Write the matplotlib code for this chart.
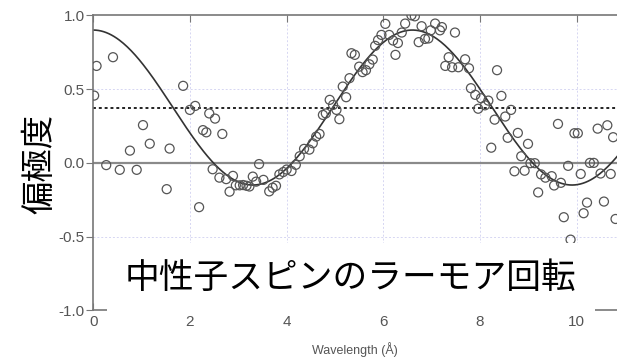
"""
Neutron spin Larmor precession: polarization vs wavelength with cosine fit.
"""

import matplotlib
matplotlib.use("Agg")
import matplotlib.pyplot as plt
import numpy as np

plt.rcParams["font.family"] = ["Liberation Sans", "DejaVu Sans"]

# ---------------------------------------------------------------------------
# Data
# ---------------------------------------------------------------------------

WAVELENGTH = [
    0.02, 0.07, 0.41, 0.27, 0.55, 0.76, 0.90, 1.03, 1.17, 1.52,
    1.58, 1.86, 2.00, 2.11, 2.05, 2.19, 2.27, 2.34, 2.40, 2.52,
    2.67, 2.47, 2.61, 2.75, 2.82, 2.89, 2.95, 3.03, 3.10, 3.17,
    3.23, 3.30, 3.37, 3.43, 3.52, 3.64, 3.71, 3.78, 3.85, 3.93,
    4.00, 4.10, 4.19, 4.27, 4.36, 4.47, 4.54, 4.61, 4.68, 4.75,
    4.81, 4.89, 4.96, 5.03, 5.09, 5.16, 5.23, 5.30, 5.34, 5.41,
    5.50, 5.57, 5.64, 5.71, 5.78, 5.83, 5.89, 5.96, 6.04, 6.12,
    6.20, 6.25, 6.30, 6.38, 6.45, 6.58, 6.65, 6.73, 6.79, 6.86,
    6.93, 6.98, 7.07, 7.17, 7.21, 7.48, 7.28, 7.35, 7.42, 7.55,
    7.69, 7.77, 7.81, 7.90, 7.96, 8.02, 8.10, 8.17, 8.23, 8.30,
    8.35, 8.44, 8.52, 8.57, 8.64, 8.71, 8.78, 8.85, 8.92, 8.99,
    9.04, 9.13, 9.20, 9.26, 9.35, 9.48, 9.53, 9.61, 9.67, 9.73,
    9.82, 9.87, 9.95, 10.02, 10.08, 10.14, 10.21, 10.27, 10.35, 10.43,
    10.49, 10.56, 10.63, 10.70, 10.75, 10.80,
]
POLARIZATION = [
    0.456, 0.657, 0.716, -0.015, -0.047, 0.083, -0.047, 0.256, 0.130, -0.178,
    0.097, 0.522, 0.359, 0.386, -0.980, -0.300, 0.222, 0.207, 0.335, 0.300,
    0.196, -0.043, -0.100, -0.110, -0.195, -0.088, -0.152, -0.152, -0.150, -0.155,
    -0.160, -0.093, -0.127, -0.008, -0.115, -0.193, -0.168, -0.155, -0.078, -0.062,
    -0.045, -0.055, -0.013, 0.045, 0.095, 0.090, 0.133, 0.178, 0.196, 0.325,
    0.335, 0.427, 0.393, 0.359, 0.296, 0.517, 0.445, 0.574, 0.743, 0.732,
    0.652, 0.615, 0.628, 0.668, 0.700, 0.793, 0.832, 0.867, 0.942, 0.867,
    0.829, 0.732, 0.812, 0.883, 0.944, 1.000, 0.993, 0.818, 0.926, 0.840,
    0.843, 0.898, 0.944, 0.898, 0.920, 0.883, 0.657, 0.716, 0.648, 0.648,
    0.702, 0.641, 0.506, 0.461, 0.367, 0.438, 0.390, 0.422, 0.103, 0.293,
    0.628, 0.454, 0.314, 0.170, 0.359, -0.057, 0.203, 0.045, -0.053, 0.129,
    -0.002, -0.002, -0.200, -0.078, -0.100, -0.090, -0.153, 0.264, -0.135, -0.368,
    -0.020, -0.520, 0.201, 0.201, -0.075, -0.341, -0.269, 0.000, 0.000, 0.232,
    -0.072, -0.262, 0.255, -0.075, 0.174, -0.380,
]

# cosine fit parameters
FIT_OFFSET = 0.375
FIT_AMPLITUDE = 0.525
FIT_PERIOD = 6.6

XTICKS = [0, 2, 4, 6, 8, 10]
YTICKS = [-1.0, -0.5, 0.0, 0.5, 1.0]

TITLE = "中性子スピンのラーモア回転"
YLABEL = "偏極度"
XLABEL = "Wavelength (Å)"

# ---------------------------------------------------------------------------
# Figure
# ---------------------------------------------------------------------------

fig = plt.figure(figsize=(6.17, 3.64), dpi=100)
ax = fig.add_axes([0.151, 0.147, 0.849, 0.811])

XMAX = 10.83
ax.set_xlim(0, XMAX)
ax.set_ylim(-1.0, 1.0)

# grid
for gx in XTICKS[1:]:
    ax.axvline(gx, color="#d6d6f2", linewidth=0.7, linestyle=(0, (2, 2)), zorder=0)
for gy in (0.5, -0.5):
    ax.axhline(gy, color="#d6d6f2", linewidth=0.7, linestyle=(0, (2, 2)), zorder=0)

ax.axhline(0.0, color="#8a8a8a", linewidth=1.6, zorder=1)
ax.axhline(FIT_OFFSET, color="#222222", linewidth=1.4,
           linestyle=(0, (1.5, 1.5)), zorder=1)

xs = np.linspace(0, XMAX, 400)
ax.plot(xs, FIT_OFFSET + FIT_AMPLITUDE * np.cos(2 * np.pi * xs / FIT_PERIOD),
        color="#333333", linewidth=1.2, zorder=2)

ax.scatter(WAVELENGTH, POLARIZATION, s=42, facecolors="none",
           edgecolors="#555555", linewidths=0.9, zorder=3, clip_on=True)

ax.text(5.33, -0.785, TITLE, ha="center", va="center", fontsize=25,
        family=["Noto Sans CJK JP", "DejaVu Sans"], color="black",
        bbox=dict(facecolor="white", edgecolor="none", pad=13), zorder=4)

# axes styling
ax.spines["right"].set_visible(False)
for side in ("left", "bottom", "top"):
    ax.spines[side].set_color("#777777")
    ax.spines[side].set_linewidth(1.2)

ax.set_xticks(XTICKS)
ax.set_xticklabels([str(t) for t in XTICKS])
ax.set_yticks(YTICKS)
ax.set_yticklabels([f"{t:.1f}" for t in YTICKS])
ax.tick_params(axis="x", direction="in", length=5, top=True, color="#777777",
               labelcolor="#555555", labelsize=11, pad=3)
ax.tick_params(axis="y", direction="out", length=5, color="#777777",
               labelcolor="#555555", labelsize=11, pad=1)

ax.set_xlabel(XLABEL, fontsize=9, color="#555555", labelpad=10)
fig.text(0.065, 0.55, YLABEL, rotation=90, ha="center", va="center",
         fontsize=24, family=["Noto Sans CJK JP", "DejaVu Sans"])

plt.savefig("out.png", dpi=100)
